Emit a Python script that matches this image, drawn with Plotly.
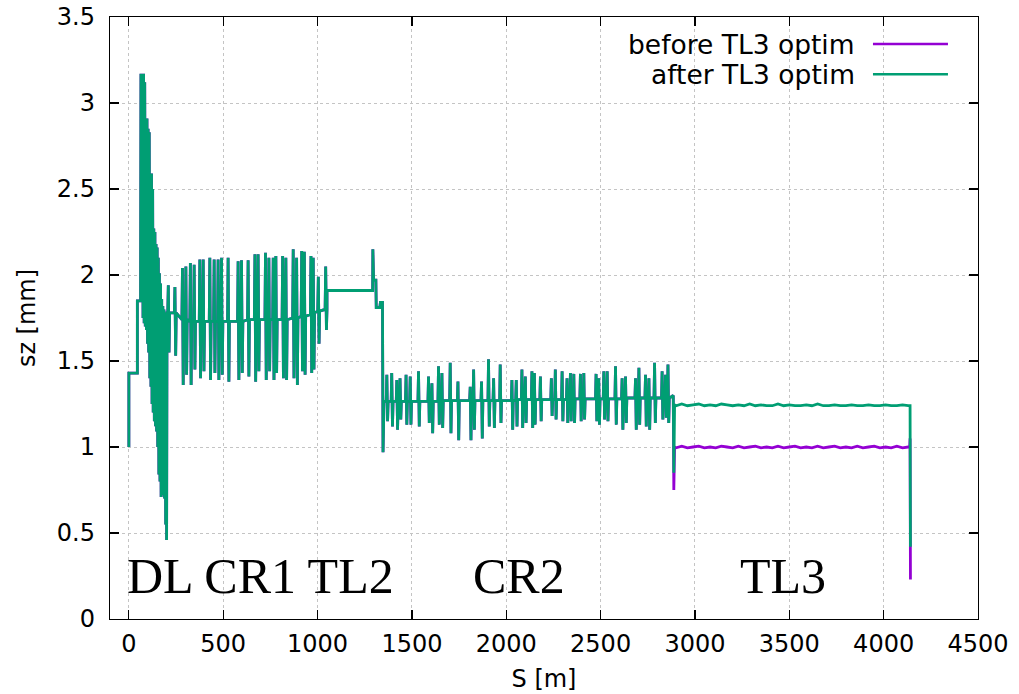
import plotly.graph_objects as go

# ---------------- data ----------------
# start of line + dogleg (DL)
dl_s = [0, 0, 45, 45, 62, 64, 68, 72, 75, 78, 81, 84, 87, 90, 93, 96, 99, 102, 105, 108,
        111, 114, 117, 120, 123, 126, 129, 132, 135, 138, 141, 144, 147, 150, 153, 156,
        159, 162, 165, 168, 171, 174, 177, 180, 183, 186, 189, 192, 195, 198, 200, 202]
dl_sz = [1.0, 1.43, 1.43, 1.85, 1.85, 3.17, 2.05, 3.17, 1.75, 3.17, 1.72, 3.12, 1.70, 2.91,
         1.68, 2.91, 1.60, 2.85, 1.55, 2.83, 1.40, 2.59, 1.35, 2.59, 1.25, 2.50, 1.20, 2.27,
         1.15, 2.25, 1.12, 2.18, 1.09, 2.16, 1.0, 2.10, 0.84, 2.01, 0.80, 1.95, 0.71, 1.86,
         0.72, 1.82, 0.75, 1.80, 0.70, 1.78, 0.55, 1.78, 0.46, 1.78]

# combiner ring 1 (CR1): spike positions, peak, trough and local baseline
cr1_s = [210, 245, 285, 303, 327, 347, 377, 395, 430, 453, 474, 492, 527, 580, 598, 633,
         669, 686, 725, 743, 766, 780, 816, 833, 872, 890, 917, 931, 966, 978, 1005, 1044]
cr1_hi = [1.94, 1.93, 2.04, 2.05, 2.07, 2.06, 2.09, 2.09, 2.10, 2.09, 2.09, 2.10, 2.10, 2.08,
          2.085, 2.085, 2.12, 2.12, 2.13, 2.10, 2.10, 2.11, 2.11, 2.10, 2.15, 2.10, 2.14,
          2.135, 2.11, 2.10, 1.99, 2.05]
cr1_lo = [1.55, 1.53, 1.36, 1.42, 1.36, 1.45, 1.40, 1.44, 1.39, 1.43, 1.39, 1.42, 1.38, 1.39,
          1.43, 1.41, 1.38, 1.44, 1.39, 1.44, 1.39, 1.43, 1.40, 1.39, 1.40, 1.36, 1.44, 1.42,
          1.43, 1.45, 1.60, 1.68]
cr1_base = [1.78, 1.78, 1.74, 1.74, 1.73, 1.73, 1.73, 1.73, 1.73, 1.73, 1.73, 1.73, 1.73,
            1.73, 1.73, 1.74, 1.74, 1.74, 1.74, 1.74, 1.74, 1.74, 1.74, 1.74, 1.75, 1.75,
            1.76, 1.76, 1.77, 1.78, 1.79, 1.80]

# transfer line 2 (TL2)
tl2_s = [1050, 1292, 1293, 1297, 1309, 1311, 1330, 1333, 1344, 1347, 1352]
tl2_sz = [1.91, 1.91, 2.15, 1.97, 1.97, 1.81, 1.81, 1.84, 1.84, 0.97, 1.265]

# combiner ring 2 (CR2)
cr2_s = [1368, 1394, 1421, 1438, 1470, 1492, 1536, 1589, 1607, 1642, 1660, 1704, 1745, 1810,
         1828, 1870, 1907, 1934, 1969, 2031, 2054, 2084, 2102, 2137, 2150, 2182, 2240, 2261,
         2297, 2323, 2341, 2359, 2394, 2412, 2477, 2491, 2518, 2536, 2580, 2615, 2633, 2686,
         2704, 2739, 2757, 2787, 2827, 2845, 2858]
cr2_hi = [1.42, 1.43, 1.39, 1.40, 1.42, 1.41, 1.44, 1.41, 1.37, 1.47, 1.43, 1.49, 1.38, 1.35,
          1.45, 1.38, 1.51, 1.40, 1.48, 1.39, 1.39, 1.45, 1.41, 1.44, 1.43, 1.41, 1.40, 1.45,
          1.44, 1.40, 1.43, 1.425, 1.425, 1.43, 1.425, 1.40, 1.44, 1.44, 1.47, 1.40, 1.41,
          1.40, 1.46, 1.42, 1.40, 1.49, 1.44, 1.42, 1.48]
cr2_lo = [1.15, 1.12, 1.10, 1.16, 1.13, 1.13, 1.12, 1.14, 1.08, 1.13, 1.11, 1.08, 1.04, 1.04,
          1.10, 1.05, 1.12, 1.11, 1.14, 1.10, 1.12, 1.11, 1.14, 1.11, 1.13, 1.15, 1.18, 1.16,
          1.15, 1.14, 1.15, 1.14, 1.15, 1.16, 1.15, 1.13, 1.16, 1.15, 1.13, 1.10, 1.14, 1.10,
          1.13, 1.12, 1.10, 1.14, 1.16, 1.17, 1.14]
cr2_base = [1.265, 1.265, 1.265, 1.265, 1.265, 1.265, 1.265, 1.265, 1.265, 1.265,
            1.27, 1.27, 1.27, 1.27, 1.27, 1.27, 1.27, 1.27, 1.27, 1.27,
            1.275, 1.275, 1.275, 1.275, 1.275, 1.275, 1.275, 1.275, 1.275, 1.275,
            1.28, 1.28, 1.28, 1.28, 1.28, 1.28, 1.28, 1.28, 1.28, 1.28,
            1.285, 1.285, 1.285, 1.285, 1.285, 1.285, 1.285, 1.285, 1.285]
cr2_end_s = [2872, 2885]
cr2_end_sz = [1.29, 1.30]

# transfer line 3 (TL3): before / after optimisation
tl3_s = [2888, 2892, 2900, 2930, 2960, 2990, 3020, 3050, 3080, 3110, 3140, 3170, 3200, 3230,
         3260, 3290, 3320, 3350, 3380, 3410, 3440, 3470, 3500, 3530, 3560, 3590, 3620, 3650,
         3680, 3710, 3740, 3770, 3800, 3830, 3860, 3890, 3920, 3950, 3980, 4010, 4040, 4070,
         4100, 4130, 4138, 4140, 4142]
tl3_before = [0.75, 1.0, 0.995, 1.005, 0.995, 1.0, 1.005, 0.995, 1.0, 0.995, 1.005, 1.0,
              0.995, 1.005, 0.995, 1.0, 1.005, 0.995, 1.0, 0.995, 1.005, 0.995, 1.0, 1.005,
              0.995, 1.0, 0.995, 1.005, 0.995, 1.0, 1.005, 0.995, 1.0, 0.995, 1.005, 0.995,
              1.0, 1.005, 0.995, 1.0, 0.995, 1.005, 0.995, 1.0, 1.0, 1.05, 0.23]
tl3_after = [0.85, 1.245, 1.24, 1.25, 1.24, 1.245, 1.25, 1.24, 1.245, 1.24, 1.25, 1.245,
             1.24, 1.245, 1.24, 1.25, 1.24, 1.245, 1.24, 1.24, 1.25, 1.24, 1.245, 1.24,
             1.24, 1.245, 1.24, 1.25, 1.24, 1.24, 1.245, 1.24, 1.24, 1.245, 1.24, 1.24,
             1.245, 1.24, 1.24, 1.245, 1.24, 1.24, 1.245, 1.24, 1.24, 1.24, 0.42]

series_names = ["before TL3 optim", "after TL3 optim"]
series_colors = ["#9400d3", "#009e73"]
region_labels = ["DL CR1 TL2", "CR2", "TL3"]
region_pos_s = [698, 2070, 3469]
region_pos_sz = [0.25, 0.25, 0.25]
x_ticks = [0, 500, 1000, 1500, 2000, 2500, 3000, 3500, 4000, 4500]
y_ticks = [0, 0.5, 1, 1.5, 2, 2.5, 3, 3.5]


def spike_path(s, hi, lo, base):
    xs, ys = [], []
    for si, h, l, b in zip(s, hi, lo, base):
        xs += [si - 4, si - 1, si + 3, si + 6]
        ys += [b, h, l, b]
    return xs, ys


cr1_x, cr1_y = spike_path(cr1_s, cr1_hi, cr1_lo, cr1_base)
cr2_x, cr2_y = spike_path(cr2_s, cr2_hi, cr2_lo, cr2_base)
common_x = dl_s + cr1_x + tl2_s + cr2_x + cr2_end_s
common_y = dl_sz + cr1_y + tl2_sz + cr2_y + cr2_end_sz

fig = go.Figure()
fig.add_trace(go.Scatter(x=common_x + tl3_s, y=common_y + tl3_before, mode="lines",
                         name=series_names[0],
                         line=dict(color=series_colors[0], width=2.8, simplify=False)))
fig.add_trace(go.Scatter(x=common_x + tl3_s, y=common_y + tl3_after, mode="lines",
                         name=series_names[1],
                         line=dict(color=series_colors[1], width=2.8, simplify=False)))

FONT = "DejaVu Sans"
axis_common = dict(showline=True, linecolor="black", linewidth=1.2, mirror="ticks",
                   ticks="inside", ticklen=9, tickwidth=1.2, tickcolor="black",
                   showgrid=True, gridcolor="#c4c4c4", griddash="dot", gridwidth=1,
                   zeroline=False, automargin=False, ticklabeloverflow="allow",
                   tickfont=dict(family=FONT, size=24, color="black"))

fig.update_layout(
    width=1019, height=694,
    margin=dict(l=110, r=41, t=17, b=75),
    plot_bgcolor="white", paper_bgcolor="white",
    showlegend=False,
    xaxis=dict(range=[-100, 4500], tickvals=x_ticks, ticktext=[str(v) for v in x_ticks],
               ticklabelstandoff=3,
               title=dict(text="S [m]", font=dict(family=FONT, size=24, color="black"),
                          standoff=13),
               **axis_common),
    yaxis=dict(range=[0, 3.5], tickvals=y_ticks, ticktext=[f"{v:g}" for v in y_ticks],
               ticklabelstandoff=9,
               title=dict(text="sz [mm]", font=dict(family=FONT, size=24, color="black"),
                          standoff=14),
               **axis_common),
)

# region labels
for txt, xs, ys in zip(region_labels, region_pos_s, region_pos_sz):
    fig.add_annotation(x=xs, y=ys, text=txt, showarrow=False, xanchor="center",
                       yanchor="middle",
                       font=dict(family="Liberation Serif", size=50, color="black"))

# gnuplot-style legend (text right, sample line on the right)
leg_y = [0.955, 0.905]
for name, col, yy in zip(series_names, series_colors, leg_y):
    fig.add_annotation(x=0.8606, y=yy, xref="paper", yref="paper", text=name,
                       showarrow=False, xanchor="right", yanchor="middle",
                       font=dict(family=FONT, size=26.5, color="black"))
    fig.add_shape(type="line", xref="paper", yref="paper", x0=0.879, x1=0.9654,
                  y0=yy, y1=yy, line=dict(color=col, width=2.5))

# remove the default page margin so the figure sits at the window's top-left corner
fig.write_html("out.html",
               config={"displayModeBar": False, "staticPlot": True},
               post_script="document.body.style.margin='0';"
                           "document.body.style.overflow='hidden';")
